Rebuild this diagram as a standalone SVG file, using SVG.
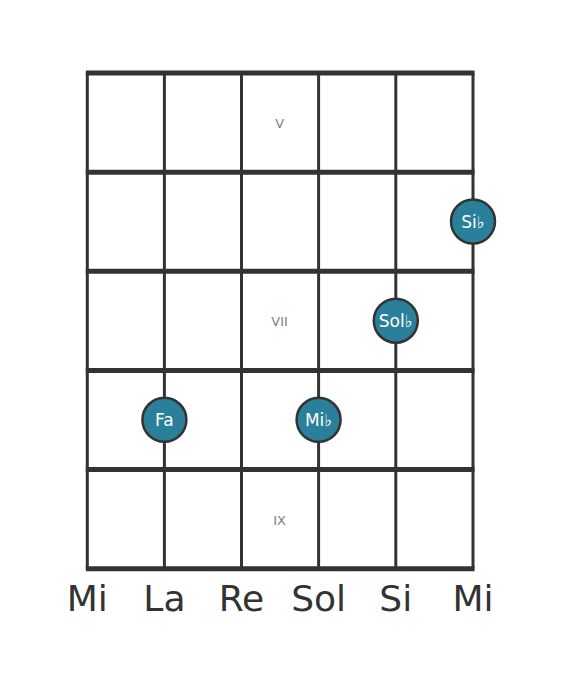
<svg xmlns="http://www.w3.org/2000/svg" width="568" height="682" viewBox="0 0 568 682">
<style>
.fret{stroke:#333;stroke-width:5}
.str{stroke:#333;stroke-width:3}
.pos{font-family:"DejaVu Sans",sans-serif;font-size:13px;fill:#808080;text-anchor:middle;dominant-baseline:central}
.name{font-family:"DejaVu Sans",sans-serif;font-size:36px;fill:#333;text-anchor:middle}
.dot circle{fill:#2a7f9a;stroke:#333;stroke-width:2.5}
.dot text{font-family:"DejaVu Sans",sans-serif;font-size:17px;fill:#fff;text-anchor:middle;dominant-baseline:central}
</style>
<rect width="568" height="682" fill="#fff"/>
<g id="strings">
<line class="str" x1="87.3" y1="73" x2="87.3" y2="568.8"/>
<line class="str" x1="164.4" y1="73" x2="164.4" y2="568.8"/>
<line class="str" x1="241.5" y1="73" x2="241.5" y2="568.8"/>
<line class="str" x1="318.6" y1="73" x2="318.6" y2="568.8"/>
<line class="str" x1="395.8" y1="73" x2="395.8" y2="568.8"/>
<line class="str" x1="473" y1="73" x2="473" y2="568.8"/>
</g>
<g id="frets">
<line class="fret" x1="85.8" y1="73" x2="474.5" y2="73"/>
<line class="fret" x1="85.8" y1="172.2" x2="474.5" y2="172.2"/>
<line class="fret" x1="85.8" y1="271.3" x2="474.5" y2="271.3"/>
<line class="fret" x1="85.8" y1="370.5" x2="474.5" y2="370.5"/>
<line class="fret" x1="85.8" y1="469.6" x2="474.5" y2="469.6"/>
<line class="fret" x1="85.8" y1="568.8" x2="474.5" y2="568.8"/>
</g>
<g id="positions">
<text class="pos" x="279.6" y="123">V</text>
<text class="pos" x="279.6" y="321.5">VII</text>
<text class="pos" x="279.6" y="520">IX</text>
</g>
<g id="n-sib" class="dot"><circle cx="473" cy="221.5" r="22"/><text x="473" y="222">Si♭</text></g>
<g id="n-solb" class="dot"><circle cx="395.8" cy="320.7" r="22"/><text x="395.8" y="321.2">Sol♭</text></g>
<g id="n-fa" class="dot"><circle cx="164.4" cy="419.8" r="22"/><text x="164.4" y="420.3">Fa</text></g>
<g id="n-mib" class="dot"><circle cx="318.6" cy="419.8" r="22"/><text x="318.6" y="420.3">Mi♭</text></g>
<g id="names">
<text class="name" x="87.3" y="611">Mi</text>
<text class="name" x="164.4" y="611">La</text>
<text class="name" x="241.5" y="611">Re</text>
<text class="name" x="318.6" y="611">Sol</text>
<text class="name" x="395.8" y="611">Si</text>
<text class="name" x="473" y="611">Mi</text>
</g>
</svg>
